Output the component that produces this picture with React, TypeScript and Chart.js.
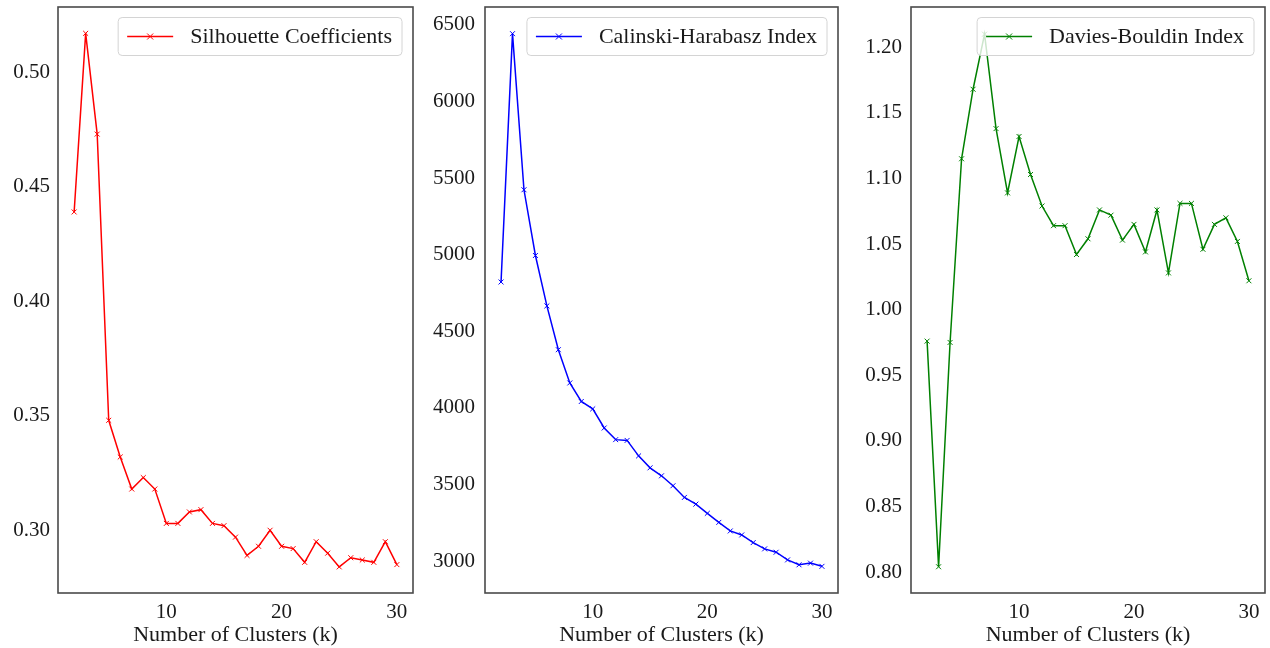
import React, { useEffect, useRef } from 'react';
import { Chart, registerables } from 'chart.js';

Chart.register(...registerables);

const clusterK = [2, 3, 4, 5, 6, 7, 8, 9, 10, 11, 12, 13, 14, 15, 16, 17, 18, 19, 20, 21, 22, 23, 24, 25, 26, 27, 28, 29, 30];

const silhouetteValues = [0.439, 0.517, 0.473, 0.348, 0.332, 0.318, 0.323, 0.318, 0.303, 0.303, 0.308, 0.309, 0.303, 0.302, 0.297, 0.289, 0.293, 0.300, 0.293, 0.292, 0.286, 0.295, 0.290, 0.284, 0.288, 0.287, 0.286, 0.295, 0.285];

const calinskiValues = [4822, 6443, 5424, 4995, 4666, 4380, 4163, 4042, 3994, 3869, 3793, 3788, 3687, 3609, 3557, 3492, 3416, 3372, 3312, 3253, 3197, 3171, 3121, 3080, 3058, 3008, 2976, 2987, 2966];

const daviesValues = [0.976, 0.804, 0.975, 1.115, 1.168, 1.210, 1.138, 1.089, 1.132, 1.103, 1.079, 1.064, 1.064, 1.042, 1.054, 1.076, 1.072, 1.053, 1.065, 1.044, 1.076, 1.028, 1.081, 1.081, 1.046, 1.065, 1.070, 1.052, 1.022];

const xTickValues = [10, 20, 30];
const silhouetteTicks = [0.30, 0.35, 0.40, 0.45, 0.50];
const calinskiTicks = [3000, 3500, 4000, 4500, 5000, 5500, 6000, 6500];
const daviesTicks = [0.80, 0.85, 0.90, 0.95, 1.00, 1.05, 1.10, 1.15, 1.20];

const xTitle = 'Number of Clusters (k)';
const FONT = '"Liberation Serif", "Times New Roman", serif';
const TEXT = '#1a1a1a';

type Panel = {
  label: string;
  values: number[];
  color: string;
  yMin: number;
  yMax: number;
  yTicks: number[];
  decimals: number;
  left: number;
  width: number;
  yAxisWidth: number;
  rightPad: number;
  tickPad: number;
};

const panels: Panel[] = [
  { label: 'Silhouette Coefficients', values: silhouetteValues, color: '#ff0000', yMin: 0.2726, yMax: 0.5285, yTicks: silhouetteTicks, decimals: 2, left: 0, width: 420, yAxisWidth: 58, rightPad: 7, tickPad: 8 },
  { label: 'Calinski-Harabasz Index', values: calinskiValues, color: '#0000ff', yMin: 2792, yMax: 6617, yTicks: calinskiTicks, decimals: 0, left: 420, width: 425, yAxisWidth: 65, rightPad: 7, tickPad: 10 },
  { label: 'Davies-Bouldin Index', values: daviesValues, color: '#008000', yMin: 0.784, yMax: 1.2307, yTicks: daviesTicks, decimals: 2, left: 845, width: 425, yAxisWidth: 66, rightPad: 5, tickPad: 9 },
];

const frameLegendPlugin = {
  id: 'frameLegend',
  afterDatasetsDraw(chart: any) {
    const { ctx, chartArea: a } = chart;
    ctx.save();
    ctx.strokeStyle = '#4a4a4a';
    ctx.lineWidth = 1.6;
    ctx.strokeRect(a.left, a.top, a.right - a.left, a.bottom - a.top);

    const ds = chart.data.datasets[0];
    ctx.font = `22px ${FONT}`;
    const tw = ctx.measureText(ds.label).width;
    const h = 38;
    const w = 9 + 46 + 17 + tw + 10;
    const x = a.right - 11 - w;
    const y = a.top + 10.5;
    ctx.beginPath();
    (ctx as any).roundRect(x, y, w, h, 4);
    ctx.fillStyle = 'rgba(255,255,255,0.8)';
    ctx.fill();
    ctx.strokeStyle = '#d4d4d4';
    ctx.lineWidth = 1;
    ctx.stroke();

    const ly = y + h / 2;
    ctx.strokeStyle = ds.borderColor;
    ctx.lineWidth = 1.5;
    ctx.beginPath();
    ctx.moveTo(x + 9, ly);
    ctx.lineTo(x + 55, ly);
    ctx.stroke();
    const mx = x + 32;
    const r = 3;
    ctx.lineWidth = 1;
    ctx.beginPath();
    ctx.moveTo(mx - r, ly - r);
    ctx.lineTo(mx + r, ly + r);
    ctx.moveTo(mx - r, ly + r);
    ctx.lineTo(mx + r, ly - r);
    ctx.stroke();

    ctx.fillStyle = TEXT;
    ctx.textBaseline = 'middle';
    ctx.textAlign = 'left';
    ctx.fillText(ds.label, x + 72, ly + 1);
    ctx.restore();
  },
};

function PanelChart({ p }: { p: Panel }) {
  const ref = useRef<HTMLCanvasElement | null>(null);
  useEffect(() => {
    if (!ref.current) return;
    const chart = new Chart(ref.current, {
      type: 'line',
      data: {
        datasets: [
          {
            label: p.label,
            data: clusterK.map((k, i) => ({ x: k, y: p.values[i] })),
            borderColor: p.color,
            backgroundColor: p.color,
            borderWidth: 1.5,
            pointStyle: 'crossRot',
            pointRadius: 3.5,
            pointBorderWidth: 1,
            pointBorderColor: p.color,
            tension: 0,
            fill: false,
          },
        ],
      },
      options: {
        responsive: false,
        animation: false,
        events: [],
        layout: { padding: { top: 7, right: p.rightPad, left: 0, bottom: 0 } },
        plugins: { legend: { display: false }, tooltip: { enabled: false } },
        scales: {
          x: {
            type: 'linear',
            min: 0.6,
            max: 31.4,
            grid: { display: false, drawTicks: false },
            border: { display: false },
            ticks: {
              padding: 7,
              maxRotation: 0,
              color: TEXT,
              font: { family: FONT, size: 21 },
              callback: (v: any) => String(v),
            },
            afterBuildTicks: (s: any) => {
              s.ticks = xTickValues.map((v) => ({ value: v }));
            },
            afterFit: (s: any) => {
              s.height = 55;
              s.paddingLeft = 0;
              s.paddingRight = 0;
            },
            title: {
              display: true,
              text: xTitle,
              color: TEXT,
              font: { family: FONT, size: 22 },
              padding: { top: 0, bottom: 0 },
            },
          },
          y: {
            type: 'linear',
            min: p.yMin,
            max: p.yMax,
            grid: { display: false, drawTicks: false },
            border: { display: false },
            ticks: {
              padding: p.tickPad,
              color: TEXT,
              font: { family: FONT, size: 21 },
              callback: (v: any) => Number(v).toFixed(p.decimals),
            },
            afterBuildTicks: (s: any) => {
              s.ticks = p.yTicks.map((v) => ({ value: v }));
            },
            afterFit: (s: any) => {
              s.width = p.yAxisWidth;
              s.paddingTop = 0;
              s.paddingBottom = 0;
            },
          },
        },
      },
      plugins: [frameLegendPlugin],
    } as any);
    return () => chart.destroy();
  }, [p]);
  return (
    <canvas
      ref={ref}
      width={p.width}
      height={648}
      style={{ position: 'absolute', left: p.left, top: 0, width: p.width, height: 648 }}
    />
  );
}

export default function App() {
  return (
    <div style={{ position: 'fixed', left: 0, top: 0, width: 1270, height: 648, background: '#ffffff', overflow: 'hidden' }}>
      {panels.map((p) => (
        <PanelChart key={p.label} p={p} />
      ))}
    </div>
  );
}
